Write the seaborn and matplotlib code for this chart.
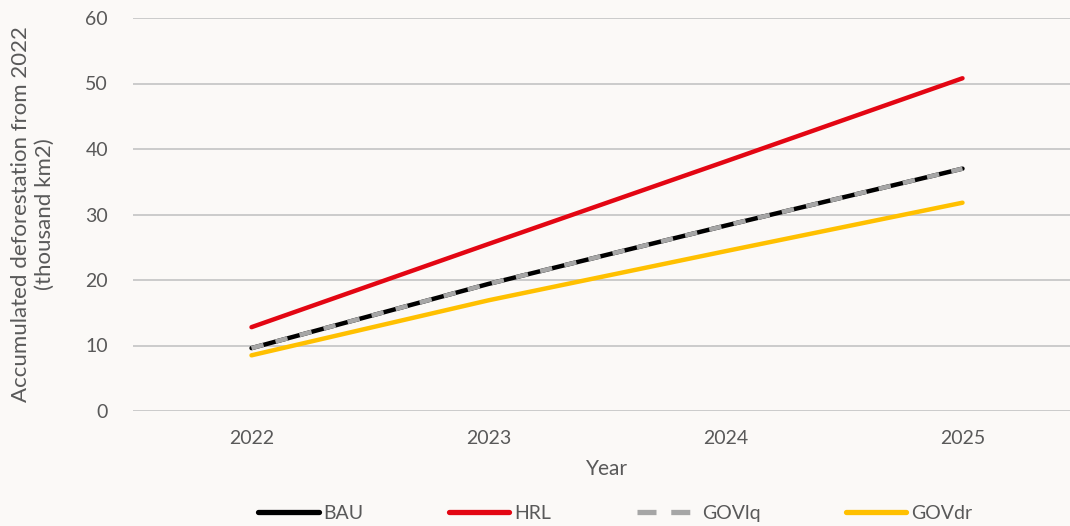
import pandas as pd
import matplotlib.pyplot as plt
import seaborn as sns
from matplotlib.lines import Line2D

years = [2022, 2023, 2024, 2025]
bau = [9.6, 19.4, 28.3, 37.0]
hrl = [12.8, 25.5, 38.1, 50.8]
govlq = [9.6, 19.4, 28.3, 37.0]
govdr = [8.5, 16.9, 24.4, 31.8]

df = pd.DataFrame({'Year': years * 4,
                   'value': bau + hrl + govlq + govdr,
                   'scenario': ['BAU'] * 4 + ['HRL'] * 4 + ['GOVlq'] * 4 + ['GOVdr'] * 4})

bg = '#FBF9F7'
sns.set_theme(style='white')
plt.rcParams['font.family'] = ['Lato', 'DejaVu Sans']
plt.rcParams['lines.scale_dashes'] = True

fig = plt.figure(figsize=(10.7, 5.26), dpi=100, facecolor=bg)
ax = fig.add_axes([133 / 1070, 115 / 526, 948 / 1070, 393 / 526])
ax.set_facecolor(bg)

colors = {'BAU': '#000000', 'HRL': '#E30613', 'GOVlq': '#A6A6A6', 'GOVdr': '#FFC000'}
for name in ['BAU', 'HRL', 'GOVlq', 'GOVdr']:
    sub = df[df['scenario'] == name]
    sns.lineplot(data=sub, x='Year', y='value', ax=ax, color=colors[name], lw=3.2,
                 solid_capstyle='round', legend=False)
    if name == 'GOVlq':
        ax.lines[-1].set_linestyle((0, (2.8, 2.8)))
        ax.lines[-1].set_dash_capstyle('butt')

ax.set_xlim(2021.5, 2025.5)
ax.set_ylim(0, 60)
ax.set_yticks(range(0, 61, 10))
ax.set_xticks(years)
ax.grid(axis='y', color='#C8C8C8', lw=1.3)
ax.grid(axis='x', visible=False)
sns.despine(ax=ax, left=True, bottom=True, top=True, right=True)
ax.tick_params(length=0, labelsize=14, colors='#595959')
ax.tick_params(axis='y', pad=18)
ax.tick_params(axis='x', pad=14)
ax.set_xlabel('Year', fontsize=15, color='#595959', labelpad=8)
ax.set_ylabel('Accumulated deforestation from 2022\n(thousand km2)', fontsize=16,
              color='#595959', labelpad=22)

handles = [Line2D([], [], color=colors['BAU'], lw=3.8, solid_capstyle='round'),
           Line2D([], [], color=colors['HRL'], lw=3.8, solid_capstyle='round'),
           Line2D([], [], color=colors['GOVlq'], lw=3.8, linestyle=(0, (3.6, 2.8)),
                  dash_capstyle='butt'),
           Line2D([], [], color=colors['GOVdr'], lw=3.8, solid_capstyle='round')]
fig.legend(handles, ['BAU', 'HRL', 'GOVlq', 'GOVdr'], loc='lower center', ncol=4,
           bbox_to_anchor=(0.575, -0.025), frameon=False, fontsize=14, handlelength=3.1,
           columnspacing=4.4, handletextpad=0.25, labelcolor='#595959')

fig.savefig('out.png', dpi=100, facecolor=bg)
